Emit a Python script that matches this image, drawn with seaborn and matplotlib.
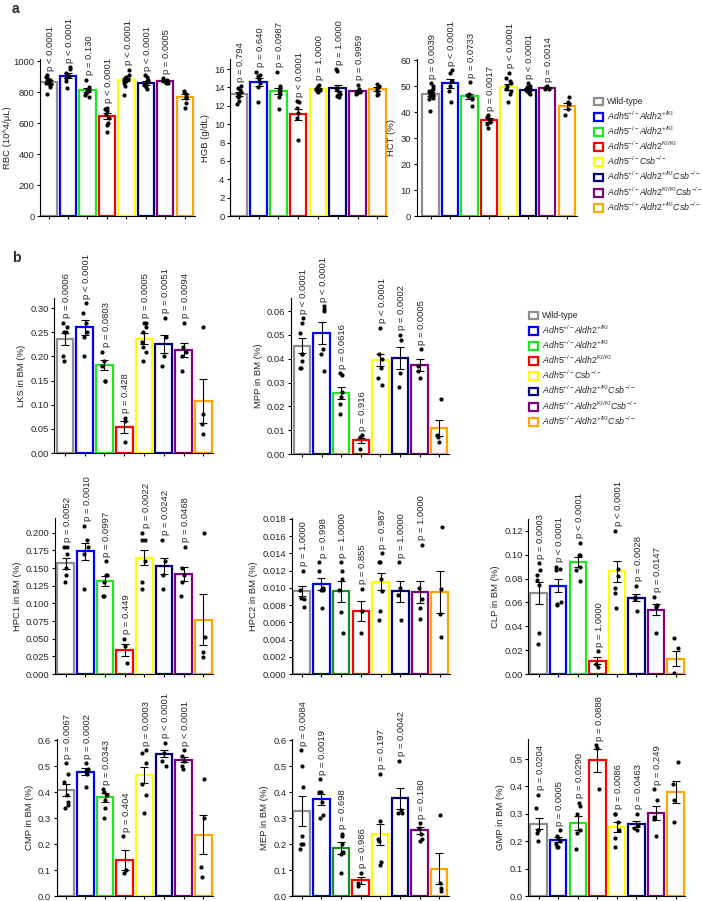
import numpy as np
import pandas as pd
import matplotlib.pyplot as plt
import seaborn as sns
from matplotlib.patches import Patch
from matplotlib.ticker import MultipleLocator, FormatStrFormatter

# Genotipos (mismo orden en todos los paneles)
genotypes = ["WT", "Adh5+/- Aldh2+/KI", "Adh5-/- Aldh2+/KI", "Adh5-/- Aldh2KI/KI",
             "Adh5-/- Csb-/-", "Adh5+/- Aldh2+/KI Csb-/-", "Adh5+/- Aldh2KI/KI Csb-/-",
             "Adh5-/- Aldh2+/KI Csb-/-"]
legend_labels = [
    "Wild-type",
    r"$\mathit{Adh5}^{+/-}\mathit{Aldh2}^{+/\mathrm{KI}}$",
    r"$\mathit{Adh5}^{-/-}\mathit{Aldh2}^{+/\mathrm{KI}}$",
    r"$\mathit{Adh5}^{-/-}\mathit{Aldh2}^{\mathrm{KI/KI}}$",
    r"$\mathit{Adh5}^{-/-}\mathit{Csb}^{-/-}$",
    r"$\mathit{Adh5}^{+/-}\mathit{Aldh2}^{+/\mathrm{KI}}\mathit{Csb}^{-/-}$",
    r"$\mathit{Adh5}^{+/-}\mathit{Aldh2}^{\mathrm{KI/KI}}\mathit{Csb}^{-/-}$",
    r"$\mathit{Adh5}^{-/-}\mathit{Aldh2}^{+/\mathrm{KI}}\mathit{Csb}^{-/-}$",
]
colors = ["#8f8f8f", "#0000ff", "#1ee61e", "#ff0000", "#ffff00", "#000080", "#800080", "#ffa500"]
colors_dark_green = ["#8f8f8f", "#0000ff", "#1c8c1c", "#ff0000", "#ffff00", "#000080", "#800080", "#ffa500"]

# ---------------- Panel a ----------------
rbc_mean = [865, 905, 815, 645, 880, 858, 872, 770]
rbc_sem = [12, 15, 12, 22, 12, 10, 6, 15]
rbc_dots = [[910, 900, 885, 880, 870, 865, 860, 855, 850, 845, 830, 785],
            [960, 950, 920, 905, 890, 870, 825],
            [880, 830, 815, 810, 800, 795, 780, 770],
            [700, 690, 680, 660, 630, 600, 590, 545],
            [945, 910, 900, 890, 885, 880, 870, 860, 840, 780],
            [910, 900, 880, 870, 860, 855, 850, 845, 835, 820],
            [890, 880, 875, 870, 865, 860, 855],
            [805, 800, 790, 770, 760, 730, 700]]
rbc_p = ["p < 0.0001", "p < 0.0001", "p = 0.130", "p < 0.0001", "p < 0.0001", "p < 0.0001", "p = 0.0005"]

hgb_mean = [13.25, 14.6, 13.6, 11.1, 13.85, 13.95, 13.6, 13.85]
hgb_sem = [0.2, 0.45, 0.35, 0.6, 0.12, 0.35, 0.15, 0.2]
hgb_dots = [[14.1, 13.9, 13.7, 13.5, 13.3, 13.1, 12.9, 12.5, 12.2],
            [15.7, 15.4, 15.2, 14.9, 14.5, 14.0, 12.4],
            [15.7, 14.2, 13.9, 13.6, 13.3, 13.0, 11.7],
            [12.5, 12.4, 11.8, 11.2, 10.7, 8.3],
            [14.3, 14.1, 13.9, 13.8, 13.7, 13.6, 13.5],
            [16.0, 15.8, 13.9, 13.7, 13.5, 13.3, 13.2, 13.1, 12.9],
            [14.3, 13.8, 13.6, 13.5, 13.4, 13.3],
            [14.4, 14.2, 14.0, 13.8, 13.6, 13.3, 13.2]]
hgb_p = ["p = 0.794", "p = 0.640", "p = 0.0987", "p < 0.0001", "p = 1.0000", "p = 1.0000", "p = 0.9959"]

hct_mean = [47.0, 51.0, 46.0, 36.8, 49.6, 48.6, 49.4, 42.4]
hct_sem = [0.7, 1.6, 1.0, 0.8, 1.0, 0.5, 0.3, 1.2]
hct_dots = [[51, 50, 49, 48.5, 48, 47.5, 47, 46.5, 46, 45.5, 45, 40.5],
            [56, 55, 52, 50, 48, 44],
            [51.4, 47, 46.5, 46, 45.5, 45, 42.5],
            [38.8, 38, 37.2, 36.8, 36.2, 35.5, 34],
            [55.2, 53, 52, 51, 50, 49, 48, 47, 44],
            [51, 50, 49.5, 49, 48.5, 48, 47.5, 47],
            [50, 49.5, 49.2, 49, 48.8],
            [45.6, 44, 43, 41, 39]]
hct_p = ["p = 0.0039", "p < 0.0001", "p = 0.0733", "p = 0.0017", "p < 0.0001", "p < 0.0001", "p = 0.0014"]

# ---------------- Panel b ----------------
lks_mean = [0.236, 0.260, 0.182, 0.054, 0.237, 0.226, 0.213, 0.108]
lks_sem = [0.012, 0.015, 0.010, 0.012, 0.011, 0.019, 0.015, 0.045]
lks_dots = [[0.27, 0.26, 0.25, 0.25, 0.20, 0.19], [0.31, 0.29, 0.27, 0.25, 0.24, 0.20],
            [0.21, 0.19, 0.18, 0.15, 0.15], [0.073, 0.067, 0.022],
            [0.27, 0.27, 0.26, 0.25, 0.23, 0.22, 0.21, 0.19], [0.28, 0.24, 0.20, 0.18],
            [0.27, 0.22, 0.21, 0.20, 0.17], [0.26, 0.08, 0.06, 0.04]]
lks_p = ["p = 0.0006", "p < 0.0001", "p = 0.0803", "p = 0.428", "p = 0.0005", "p = 0.0051", "p = 0.0094"]

mpp_mean = [0.0455, 0.0508, 0.0256, 0.0057, 0.0393, 0.0403, 0.0372, 0.0109]
mpp_sem = [0.003, 0.0045, 0.0025, 0.001, 0.0025, 0.0045, 0.0025, 0.0035]
mpp_dots = [[0.057, 0.055, 0.051, 0.042, 0.042, 0.039, 0.036, 0.036],
            [0.062, 0.061, 0.060, 0.044, 0.042, 0.035],
            [0.034, 0.033, 0.026, 0.024, 0.021, 0.017], [0.008, 0.007, 0.002],
            [0.053, 0.042, 0.040, 0.036, 0.032, 0.029], [0.050, 0.048, 0.034, 0.028],
            [0.044, 0.037, 0.035, 0.032], [0.023, 0.008, 0.007, 0.005]]
mpp_p = ["p < 0.0001", "p < 0.0001", "p = 0.0616", "p = 0.916", "p < 0.0001", "p = 0.0002", "p = 0.0005"]

hpc1_mean = [0.157, 0.174, 0.132, 0.034, 0.165, 0.153, 0.142, 0.077]
hpc1_sem = [0.008, 0.012, 0.007, 0.009, 0.011, 0.012, 0.010, 0.036]
hpc1_dots = [[0.18, 0.18, 0.17, 0.15, 0.14, 0.13], [0.21, 0.19, 0.18, 0.17, 0.12],
             [0.16, 0.14, 0.14, 0.13, 0.11, 0.11], [0.05, 0.04, 0.015],
             [0.20, 0.19, 0.19, 0.16, 0.13, 0.12], [0.19, 0.16, 0.14, 0.12],
             [0.18, 0.15, 0.14, 0.13, 0.11], [0.20, 0.052, 0.031, 0.024]]
hpc1_p = ["p = 0.0052", "p = 0.0010", "p = 0.0997", "p = 0.449", "p = 0.0022", "p = 0.0242", "p = 0.0468"]

hpc2_mean = [0.0096, 0.0104, 0.0096, 0.0073, 0.0107, 0.0096, 0.0095, 0.0095]
hpc2_sem = [0.0006, 0.0007, 0.0012, 0.0012, 0.001, 0.0012, 0.0013, 0.0024]
hpc2_dots = [[0.012, 0.0098, 0.0088, 0.0087, 0.0078], [0.013, 0.012, 0.0100, 0.0098, 0.0097, 0.0076],
             [0.013, 0.012, 0.011, 0.0097, 0.0072, 0.0048], [0.0099, 0.0073, 0.0048],
             [0.014, 0.013, 0.013, 0.011, 0.0096, 0.0073, 0.0063], [0.013, 0.010, 0.0092, 0.0063],
             [0.015, 0.010, 0.0087, 0.0077, 0.0064], [0.017, 0.0099, 0.0070, 0.0043]]
hpc2_p = ["p = 1.0000", "p = 0.998", "p = 1.0000", "p = 0.855", "p = 0.987", "p = 1.0000", "p = 1.0000"]

clp_mean = [0.068, 0.074, 0.094, 0.011, 0.086, 0.064, 0.054, 0.013]
clp_sem = [0.0095, 0.0055, 0.0045, 0.003, 0.0085, 0.003, 0.0045, 0.0065]
clp_dots = [[0.093, 0.087, 0.083, 0.079, 0.075, 0.034, 0.025], [0.090, 0.088, 0.087, 0.060, 0.059, 0.058],
            [0.110, 0.100, 0.100, 0.090, 0.087, 0.078], [0.019, 0.008, 0.006],
            [0.120, 0.088, 0.082, 0.072, 0.068, 0.055], [0.074, 0.065, 0.063, 0.053],
            [0.065, 0.058, 0.057, 0.056, 0.034], [0.030, 0.022, 0.001]]
clp_p = ["p = 0.0003", "p < 0.0001", "p < 0.0001", "p = 1.0000", "p < 0.0001", "p = 0.0028", "p = 0.0147"]

cmp_mean = [0.408, 0.478, 0.380, 0.138, 0.465, 0.548, 0.525, 0.235]
cmp_sem = [0.024, 0.013, 0.018, 0.038, 0.030, 0.015, 0.010, 0.075]
cmp_dots = [[0.51, 0.47, 0.44, 0.39, 0.36, 0.35, 0.34], [0.51, 0.49, 0.48, 0.47, 0.42],
            [0.41, 0.40, 0.39, 0.37, 0.34, 0.30], [0.23, 0.10, 0.09],
            [0.56, 0.55, 0.51, 0.43, 0.39, 0.32], [0.59, 0.55, 0.52, 0.50],
            [0.56, 0.54, 0.52, 0.50, 0.49], [0.45, 0.30, 0.11, 0.075]]
cmp_p = ["p = 0.0067", "p = 0.0002", "p = 0.0343", "p = 0.404", "p = 0.0003", "p < 0.0001", "p < 0.0001"]

mep_mean = [0.328, 0.372, 0.185, 0.060, 0.238, 0.376, 0.252, 0.105]
mep_sem = [0.057, 0.02, 0.022, 0.013, 0.04, 0.04, 0.012, 0.06]
mep_dots = [[0.56, 0.50, 0.42, 0.23, 0.20, 0.20, 0.18], [0.45, 0.40, 0.40, 0.36, 0.31, 0.30],
            [0.24, 0.23, 0.20, 0.17, 0.16, 0.09], [0.09, 0.05, 0.04],
            [0.47, 0.29, 0.22, 0.21, 0.13, 0.12], [0.52, 0.33, 0.32, 0.32],
            [0.28, 0.26, 0.24, 0.22, 0.21], [0.31, 0.05, 0.03, 0.02]]
mep_p = ["p = 0.0084", "p = 0.0019", "p = 0.698", "p = 0.986", "p = 0.197", "p = 0.0042", "p = 0.180"]

gmp_mean = [0.264, 0.206, 0.266, 0.495, 0.252, 0.263, 0.303, 0.381]
gmp_sem = [0.02, 0.008, 0.025, 0.042, 0.018, 0.01, 0.027, 0.04]
gmp_dots = [[0.37, 0.32, 0.24, 0.24, 0.23, 0.20], [0.24, 0.22, 0.21, 0.20, 0.19, 0.18, 0.18],
            [0.34, 0.33, 0.30, 0.24, 0.23, 0.17], [0.55, 0.54, 0.39],
            [0.30, 0.30, 0.27, 0.24, 0.21, 0.18], [0.30, 0.26, 0.25, 0.24],
            [0.39, 0.35, 0.29, 0.28, 0.22], [0.49, 0.41, 0.35, 0.27]]
gmp_p = ["p = 0.0204", "p = 0.0005", "p = 0.0290", "p = 0.0888", "p = 0.0086", "p = 0.0463", "p = 0.249"]

# ---------------- Estilo ----------------
sns.set_style("ticks")
plt.rcParams['font.family'] = ['Liberation Sans', 'DejaVu Sans']
plt.rcParams['mathtext.fontset'] = 'custom'
plt.rcParams['mathtext.it'] = 'Liberation Sans:italic'
plt.rcParams['mathtext.rm'] = 'Liberation Sans'
plt.rcParams['mathtext.sf'] = 'Liberation Sans'
np.random.seed(11)

W, H = 702, 901
FS = 6.8
fig = plt.figure(figsize=(W / 100, H / 100), dpi=100)


def draw_panel(box, means, sems, dots, pvals, ylab, ytop, step, fmt, xl, pal, lpad=3):
    x0, x1, top, bottom = box
    ax = fig.add_axes([x0 / W, 1 - bottom / H, (x1 - x0) / W, (bottom - top) / H])
    sns.barplot(x=genotypes, y=means, hue=genotypes, palette=dict(zip(genotypes, pal)),
                fill=False, width=0.84, linewidth=1.6, legend=False, ax=ax)
    ax.errorbar(range(8), means, yerr=sems, fmt='none', ecolor='black',
                elinewidth=0.8, capsize=3.2, capthick=0.8, zorder=4)
    df = pd.DataFrame({"genotype": np.repeat(genotypes, [len(d) for d in dots]),
                       "value": np.concatenate(dots)})
    sns.stripplot(data=df, x="genotype", y="value", order=genotypes, color="black",
                  size=3, jitter=0.13, ax=ax, zorder=5)
    for i, p in enumerate(pvals):
        ax.annotate(p, (i, max(dots[i])), xytext=(1.2, 3.2), textcoords='offset points',
                    rotation=90, ha='center', va='bottom', fontsize=FS)
    ax.set_xlim(xl, 7.5)
    ax.set_ylim(0, ytop)
    ax.yaxis.set_major_locator(MultipleLocator(step))
    ax.yaxis.set_major_formatter(FormatStrFormatter(fmt))
    ax.set_xticks(range(8))
    ax.set_xticklabels([""] * 8)
    ax.set_xlabel("")
    ax.set_ylabel(ylab, fontsize=FS, labelpad=lpad)
    ax.tick_params(length=2.5, width=0.8, labelsize=FS, pad=1.5, color='black')
    sns.despine(ax=ax)
    for s in ["left", "bottom"]:
        ax.spines[s].set_linewidth(0.8)
        ax.spines[s].set_color("black")
    return ax


draw_panel((40, 194.5, 59, 216), rbc_mean, rbc_sem, rbc_dots, rbc_p, "RBC (10^4/μL)", 1013, 200, '%d', -0.44, colors, lpad=1)
draw_panel((230, 387.2, 59, 216), hgb_mean, hgb_sem, hgb_dots, hgb_p, "HGB (g/dL)", 17.09, 2, '%d', -0.44, colors)
draw_panel((416.7, 576.5, 59, 216), hct_mean, hct_sem, hct_dots, hct_p, "HCT (%)", 60.4, 10, '%d', -0.71, colors)

draw_panel((54.3, 213.2, 298, 453), lks_mean, lks_sem, lks_dots, lks_p, "LKS in BM (%)", 0.321, 0.05, '%.2f', -0.54, colors)
draw_panel((291, 449, 298, 454), mpp_mean, mpp_sem, mpp_dots, mpp_p, "MPP in BM (%)", 0.0655, 0.01, '%.2f', -0.56, colors)

draw_panel((55.3, 213.2, 518, 674), hpc1_mean, hpc1_sem, hpc1_dots, hpc1_p, "HPC1 in BM (%)", 0.221, 0.025, '%.3f', -0.53, colors)
draw_panel((291.7, 449.5, 518, 674), hpc2_mean, hpc2_sem, hpc2_dots, hpc2_p, "HPC2 in BM (%)", 0.0181, 0.002, '%.3f', -0.51, colors_dark_green)
draw_panel((528.3, 685.4, 519, 674), clp_mean, clp_sem, clp_dots, clp_p, "CLP in BM (%)", 0.130, 0.02, '%.2f', -0.53, colors)

draw_panel((56.7, 213.2, 739, 896), cmp_mean, cmp_sem, cmp_dots, cmp_p, "CMP in BM (%)", 0.604, 0.1, '%.1f', -0.46, colors)
draw_panel((292, 449, 739, 896), mep_mean, mep_sem, mep_dots, mep_p, "MEP in BM (%)", 0.604, 0.1, '%.1f', -0.49, colors_dark_green)
draw_panel((528.3, 685.4, 739, 896), gmp_mean, gmp_sem, gmp_dots, gmp_p, "GMP in BM (%)", 0.573, 0.1, '%.1f', -0.53, colors)

# Leyendas
handles = [Patch(facecolor="white", edgecolor=c, linewidth=1.6) for c in colors]
for (lx, ly) in [(594, 97.5), (529, 311.5)]:
    fig.legend(handles, legend_labels, loc="upper left", bbox_to_anchor=(lx / W, 1 - ly / H),
               frameon=False, fontsize=6.3, handlelength=1.0, handleheight=1.0,
               handletextpad=0.45, labelspacing=0.32, borderpad=0, borderaxespad=0)

fig.text(12 / W, 1 - 2 / H, "a", fontsize=10, fontweight="bold", va="top")
fig.text(12 / W, 1 - 251 / H, "b", fontsize=10, fontweight="bold", va="top")

fig.savefig("out.png", dpi=100)
